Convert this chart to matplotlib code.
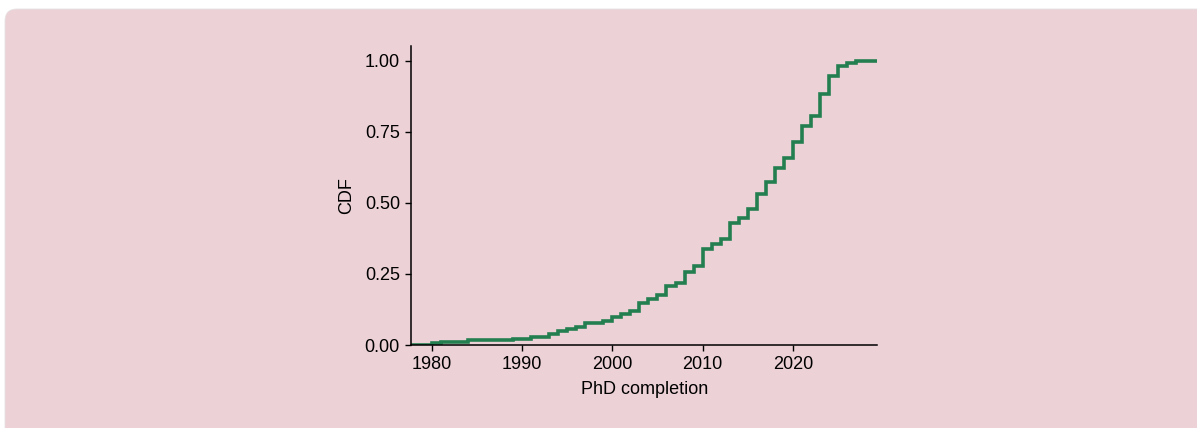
import matplotlib
matplotlib.use("Agg")
import matplotlib.pyplot as plt
from matplotlib.patches import FancyBboxPatch
from matplotlib.transforms import IdentityTransform

# step positions (PhD completion year) and CDF level after each step
years = [1980, 1981, 1984, 1989, 1991, 1993, 1994, 1995, 1996, 1997, 1999,
         2000, 2001, 2002, 2003, 2004, 2005, 2006, 2007, 2008, 2009, 2010,
         2011, 2012, 2013, 2014, 2015, 2016, 2017, 2018, 2019, 2020, 2021,
         2022, 2023, 2024, 2025, 2026, 2027]
cdf = [0.006, 0.010, 0.016, 0.020, 0.027, 0.039, 0.048, 0.056, 0.064, 0.078,
       0.084, 0.100, 0.109, 0.120, 0.149, 0.162, 0.177, 0.209, 0.219, 0.258,
       0.279, 0.337, 0.355, 0.372, 0.428, 0.446, 0.478, 0.531, 0.574, 0.621,
       0.657, 0.713, 0.770, 0.805, 0.882, 0.946, 0.982, 0.993, 1.000]
xticks = [1980, 1990, 2000, 2010, 2020]
yticks = [0.0, 0.25, 0.5, 0.75, 1.0]

W, H = 1197, 428
BG = "#ECD1D6"
LINE = "#237E50"

plt.rcParams["font.family"] = ["Liberation Sans", "DejaVu Sans"]

fig = plt.figure(figsize=(W / 100, H / 100), dpi=100)
fig.patch.set_facecolor("white")

# rounded pink card behind the chart (pixel coords, runs off right/bottom)
card = FancyBboxPatch(
    (5, -60), W + 100, H - 9 + 60,
    boxstyle="round,pad=0,rounding_size=12",
    transform=IdentityTransform(), facecolor=BG, edgecolor="#e6e2e3",
    linewidth=0.6, zorder=-5,
)
fig.patches.append(card)

ax = fig.add_axes([411 / W, 1 - 345 / H, (877.3 - 411) / W, (345 - 46) / H])
ax.set_facecolor("none")

xlim = (1977.7, 2029.35)
xs = [xlim[0]] + years + [xlim[1]]
ys = [0.0] + cdf + [cdf[-1]]
ax.step(xs, ys, where="post", color=LINE, linewidth=2.6, solid_joinstyle="miter")

ax.set_xlim(*xlim)
ax.set_ylim(0, 1.052)
ax.set_xticks(xticks)
ax.set_yticks(yticks)
ax.set_yticklabels([f"{v:.2f}" for v in yticks])
ax.tick_params(labelsize=13, length=4, width=1, colors="black", pad=4)
ax.set_xlabel("PhD completion", fontsize=13, labelpad=6)
ax.set_ylabel("CDF", fontsize=13, labelpad=7)
for side in ("top", "right"):
    ax.spines[side].set_visible(False)
for side in ("left", "bottom"):
    ax.spines[side].set_linewidth(1.1)

fig.savefig("out.png", dpi=100)
